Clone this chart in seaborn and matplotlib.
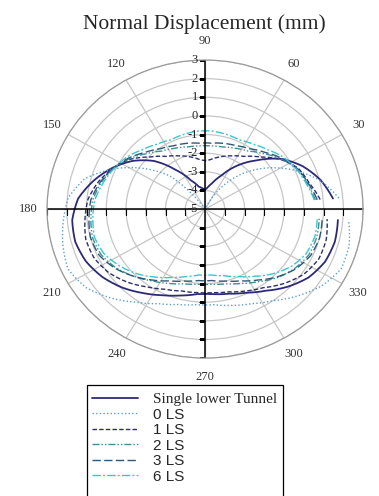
import numpy as np
import pandas as pd
import matplotlib
matplotlib.use('Agg')
import matplotlib.pyplot as plt
import matplotlib.transforms as mtransforms
from matplotlib.markers import TICKLEFT, TICKDOWN
from matplotlib.patches import Rectangle
import seaborn as sns

# angle (deg) at which each displacement was read
angles = [5, 15, 25, 35, 45, 55, 65, 75, 85, 90, 95, 105, 115, 125, 135, 145, 155, 165, 175,
          185, 195, 205, 215, 225, 235, 245, 255, 265, 270, 275, 285, 295, 305, 315, 325, 335, 345, 355]

single_lower = [1.5, 1.05, 0.45, -0.3, -1.3, -2.15, -3.0, -3.55, -3.88, -3.95, -3.9, -3.75, -3.3, -2.45,
                -1.35, -0.5, 0.2, 0.85, 1.45, 1.75, 1.8, 1.65, 1.35, 0.95, 0.5, 0.1, -0.2, -0.42, -0.45,
                -0.42, -0.3, -0.05, 0.35, 0.9, 1.4, 1.7, 1.8, 1.75]
ls_0 = [1.8, 1.0, -0.05, -1.15, -2.3, -3.6, -5.0, -5.0, -5.0, -5.0, -5.0, -5.0, -5.0, -5.0,
        -2.5, -1.2, 0.1, 1.3, 1.95, 2.2, 2.45, 2.65, 2.35, 1.75, 1.1, 0.6, 0.3, 0.15, 0.15,
        0.15, 0.35, 0.6, 1.0, 1.6, 2.2, 2.6, 2.55, 2.3]
ls_1 = [0.85, 0.45, 0.2, -0.35, -1.05, -1.55, -1.85, -2.1, -2.35, -2.4, -2.35, -2.1, -1.85, -1.55,
        -1.05, -0.35, 0.15, 0.6, 0.95, 1.1, 1.25, 1.2, 0.95, 0.55, 0.1, -0.25, -0.45, -0.5, -0.5,
        -0.5, -0.4, -0.15, 0.15, 0.65, 1.1, 1.35, 1.35, 1.2]
ls_2 = [0.6, 0.35, 0.12, -0.3, -0.8, -1.2, -1.4, -1.55, -1.6, -1.6, -1.6, -1.55, -1.4, -1.2,
        -0.8, -0.3, 0.12, 0.45, 0.7, 0.8, 0.9, 0.8, 0.5, 0.1, -0.3, -0.6, -0.85, -0.95, -0.95,
        -0.95, -0.85, -0.6, -0.25, 0.2, 0.55, 0.8, 0.85, 0.8]
ls_3 = [0.7, 0.4, 0.15, -0.25, -0.7, -1.05, -1.25, -1.35, -1.45, -1.45, -1.45, -1.35, -1.25, -1.05,
        -0.7, -0.25, 0.15, 0.5, 0.8, 0.9, 1.0, 0.9, 0.55, 0.1, -0.35, -0.75, -1.0, -1.15, -1.15,
        -1.15, -1.0, -0.75, -0.35, 0.15, 0.6, 0.9, 1.0, 0.95]
ls_6 = [0.55, 0.3, 0.1, -0.15, -0.5, -0.75, -0.9, -0.85, -0.8, -0.8, -0.8, -0.85, -0.9, -0.75,
        -0.5, -0.15, 0.1, 0.35, 0.6, 0.7, 0.8, 0.65, 0.3, -0.1, -0.55, -0.95, -1.25, -1.45, -1.45,
        -1.45, -1.3, -1.0, -0.6, -0.1, 0.35, 0.65, 0.75, 0.7]

case_names = ['Single lower Tunnel', '0 LS', '1 LS', '2 LS', '3 LS', '6 LS']
radial_ticks = [-5, -4, -3, -2, -1, 0, 1, 2, 3]
angle_ticks = [0, 30, 60, 90, 120, 150, 180, 210, 240, 270, 300, 330]

palette = {'Single lower Tunnel': '#2c2a78', '0 LS': '#5b9fd0', '1 LS': '#2b2e6e',
           '2 LS': '#3f8f92', '3 LS': '#2f5878', '6 LS': '#3cc4d0'}
dashes = {'Single lower Tunnel': '', '0 LS': (1, 1.6), '1 LS': (3.2, 1.6),
          '2 LS': (5, 1.5, 1, 1.5, 1, 1.5), '3 LS': (6, 2.4), '6 LS': (6, 1.6, 1.4, 1.6)}

frames = []
for name, vals in zip(case_names, [single_lower, ls_0, ls_1, ls_2, ls_3, ls_6]):
    frames.append(pd.DataFrame({'theta': np.deg2rad(angles), 'disp': vals, 'case': name}))
df = pd.concat(frames, ignore_index=True)

sns.set_style('white')
plt.rcParams['font.family'] = ['Liberation Serif', 'DejaVu Serif']

fig = plt.figure(figsize=(3.79, 4.96), dpi=100)
ax = fig.add_axes([0.124, 0.278, 0.834, 0.601], projection='polar')

sns.lineplot(data=df, x='theta', y='disp', hue='case', style='case', hue_order=case_names,
             style_order=case_names, palette=palette, dashes=dashes, estimator=None,
             sort=False, legend=False, linewidth=1.0, ax=ax)
handles = list(ax.lines[:6])
handles[0].set_linewidth(1.3)
# let the polar transform bend each segment along theta
for ln in handles:
    ln.get_path()._interpolation_steps = 12

ax.set_aspect('auto')
ax.set_rlim(-5, 3)
ax.set_rgrids(radial_ticks[1:], labels=[''] * 8)
ax.set_thetagrids(angle_ticks, labels=[str(a) for a in angle_ticks], fontsize=9)
ax.tick_params(axis='x', pad=1.5, direction='out', length=5, width=0.8, colors='#333333')
ax.grid(color='#c6c6c6', linewidth=0.9)
ax.spines['polar'].set_color('#9a9a9a')
ax.spines['polar'].set_linewidth(0.9)
ax.set_xlabel('')
ax.set_ylabel('')

# black cross axes through the centre with unit ticks
ax.plot(np.deg2rad([0, 0, 180]), [3, -5, 3], color='black', lw=1.1)
ax.plot(np.deg2rad([90, 90, 270]), [3, -5, 3], color='black', lw=1.1)
for a in [90, 270]:
    ax.plot(np.deg2rad([a] * 8), radial_ticks[1:], ls='none', marker=TICKLEFT,
            ms=4.5, mew=0.8, color='black')
for a in [0, 180]:
    ax.plot(np.deg2rad([a] * 8), radial_ticks[1:], ls='none', marker=TICKDOWN,
            ms=4.5, mew=0.8, color='black')

offset = mtransforms.ScaledTranslation(-5 / 72, 0, fig.dpi_scale_trans)
for v in radial_ticks:
    ax.text(np.pi / 2, v, str(v), transform=ax.transData + offset,
            ha='right', va='center', fontsize=9, color='#222222')

fig.text(0.539, 0.9415, 'Normal Displacement (mm)', ha='center', va='baseline', fontsize=15.5)

# legend box runs off the bottom edge like the original figure
leg = fig.legend(handles, case_names, loc='upper center', bbox_to_anchor=(0.487, 0.2198),
                 borderaxespad=0, frameon=False, fontsize=11,
                 handlelength=3.0, handletextpad=1.0, labelspacing=0.1, borderpad=0.35)
for i, t in enumerate(leg.get_texts()):
    t.set_fontfamily('Liberation Serif' if i == 0 else 'Liberation Sans')
fig.add_artist(Rectangle((0.2296, -0.05), 0.517, 0.2738, transform=fig.transFigure,
                         fill=False, edgecolor='black', linewidth=0.9))

fig.savefig('out.png', dpi=100)
